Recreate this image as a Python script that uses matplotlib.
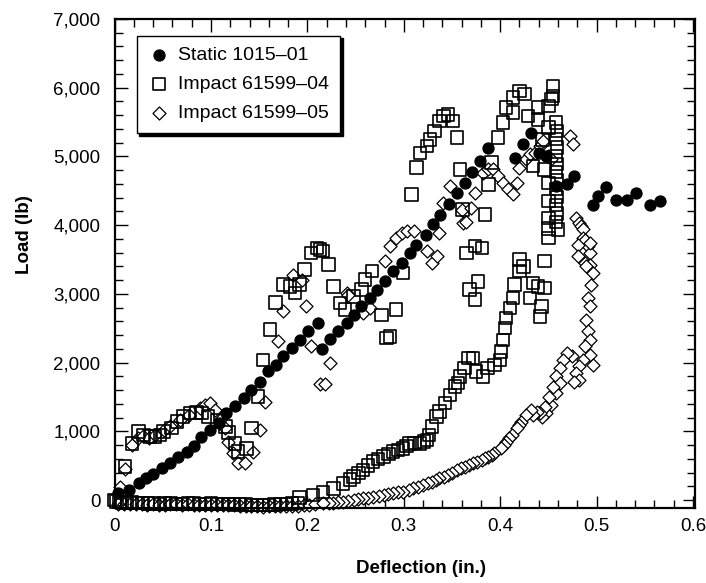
import numpy as np
import matplotlib.pyplot as plt
from matplotlib.ticker import MultipleLocator, FuncFormatter

plt.rcParams['font.family'] = ['Liberation Sans', 'DejaVu Sans']

# Static 1015-01 (filled circles)
static_x = [0.004, 0.015, 0.025, 0.033, 0.040, 0.049, 0.058, 0.066, 0.075, 0.082,
            0.090, 0.099, 0.108, 0.116, 0.125, 0.134, 0.142, 0.151, 0.159, 0.167,
            0.175, 0.184, 0.192, 0.201, 0.211, 0.215, 0.223, 0.232, 0.241, 0.248,
            0.256, 0.265, 0.272, 0.280, 0.289, 0.298, 0.306, 0.313, 0.323, 0.330,
            0.338, 0.347, 0.355, 0.363, 0.371, 0.379, 0.387, 0.415, 0.424, 0.432,
            0.440, 0.448, 0.458, 0.469, 0.477, 0.496, 0.501, 0.510, 0.520, 0.531,
            0.541, 0.555, 0.566]
static_y = [100, 146, 243, 316, 379, 462, 535, 631, 704, 787,
            923, 1020, 1118, 1264, 1370, 1482, 1604, 1725, 1871, 1968,
            2089, 2211, 2333, 2454, 2576, 2200, 2345, 2454, 2576, 2697,
            2818, 2940, 3062, 3183, 3329, 3451, 3597, 3718, 3864, 4010,
            4141, 4301, 4462, 4617, 4772, 4933, 5127, 4982, 5176, 5346,
            5050, 5000, 4568, 4593, 4714, 4287, 4422, 4559, 4364, 4364,
            4471, 4287, 4350]

# Impact 61599-04 (open squares)
imp04_x = [0.000, 0.002, 0.005, 0.008, 0.013, 0.018, 0.024, 0.029, 0.035, 0.041,
           0.047, 0.052, 0.058, 0.064, 0.070, 0.076, 0.082, 0.088, 0.094, 0.100,
           0.106, 0.112, 0.118, 0.124, 0.130, 0.136, 0.142, 0.148, 0.154, 0.160,
           0.166, 0.172, 0.178, 0.184, 0.190,
           0.011, 0.018, 0.025, 0.030, 0.037, 0.042, 0.047, 0.051, 0.059, 0.065,
           0.071, 0.078, 0.085, 0.090, 0.097, 0.106, 0.115, 0.118, 0.125, 0.128,
           0.137, 0.142, 0.149, 0.154, 0.161, 0.167, 0.175, 0.182, 0.187, 0.192,
           0.197, 0.204, 0.210, 0.213, 0.216, 0.222, 0.227, 0.234, 0.239, 0.248,
           0.256, 0.260, 0.267, 0.277, 0.282, 0.286, 0.292, 0.299, 0.308, 0.313,
           0.317, 0.324, 0.327, 0.332, 0.337, 0.341, 0.346, 0.351, 0.355, 0.358,
           0.361, 0.365, 0.374, 0.381, 0.377, 0.368, 0.374, 0.384, 0.388, 0.391,
           0.398, 0.403, 0.406, 0.413, 0.420, 0.425, 0.413, 0.429, 0.439, 0.439,
           0.444, 0.446, 0.434, 0.450, 0.450, 0.453, 0.455, 0.455,
           0.458, 0.459, 0.458, 0.459, 0.458, 0.459, 0.458, 0.459, 0.458, 0.459,
           0.458, 0.459, 0.458, 0.460, 0.450, 0.450, 0.450, 0.450, 0.450,
           0.446, 0.420, 0.420, 0.424, 0.434, 0.439, 0.446, 0.443, 0.441, 0.431,
           0.415, 0.413, 0.410, 0.406, 0.405, 0.403, 0.401, 0.400, 0.394, 0.387,
           0.382, 0.375, 0.372, 0.367, 0.363, 0.358, 0.356, 0.353, 0.348, 0.343,
           0.337, 0.334, 0.329, 0.326, 0.324, 0.321, 0.317, 0.311, 0.306, 0.303,
           0.299, 0.294, 0.289, 0.284, 0.279, 0.273, 0.268, 0.263, 0.258, 0.253,
           0.248, 0.244, 0.237, 0.227, 0.216, 0.206, 0.192]
imp04_y = [0, -20, -30, -35, -40, -38, -45, -42, -50, -48,
           -55, -50, -52, -58, -55, -50, -53, -60, -55, -52,
           -58, -55, -60, -62, -58, -65, -70, -68, -72, -70,
           -65, -60, -55, -50, -40,
           486, 826, 996, 948, 923, 923, 948, 996, 1045, 1142,
           1215, 1264, 1273, 1264, 1215, 1166, 1069, 981, 826, 704,
           753, 1045, 1506, 2041, 2479, 2877, 3135, 3110, 3013, 3135,
           3353, 3597, 3670, 3645, 3620, 3426, 3110, 2868, 2770, 2965,
           3062, 3208, 3329, 2697, 2357, 2381, 2770, 3305, 4447, 4837,
           5054, 5152, 5249, 5370, 5516, 5589, 5613, 5516, 5273, 4812,
           4228, 3597, 3693, 3670, 3183, 3062, 2916, 4155, 4593, 4909,
           5273, 5492, 5711, 5857, 5954, 5905, 5638, 5589, 5711, 5540,
           5249, 4812, 4860, 5419, 5735, 5832, 6026, 5880,
           5492, 5370, 5250, 5130, 5010, 4890, 4770, 4650, 4530, 4410,
           4290, 4170, 4050, 3937, 4617, 4350, 4107, 3950, 3816,
           3475, 3499, 3329, 3400, 3159, 3110, 3086, 2818, 2673, 2940,
           3135, 2940, 2795, 2649, 2503, 2333, 2162, 2041, 1968, 1920,
           1798, 1871, 2066, 2066, 1920, 1798, 1701, 1652, 1531, 1410,
           1288, 1215, 1069, 950, 875, 850, 826, 830, 826, 790,
           753, 730, 704, 670, 631, 595, 559, 500, 437, 390,
           340, 300, 243, 170, 121, 73, 39]

# Impact 61599-05 (open diamonds)
imp05_x = [0.004, 0.010, 0.016, 0.022, 0.028, 0.034, 0.040, 0.046, 0.052, 0.058,
           0.064, 0.070, 0.076, 0.082, 0.088, 0.094, 0.100, 0.106, 0.112, 0.118,
           0.124, 0.130, 0.136, 0.142, 0.148, 0.154, 0.160, 0.166, 0.172, 0.178,
           0.184, 0.190, 0.196, 0.202, 0.208,
           0.006, 0.011, 0.018, 0.024, 0.030, 0.036, 0.042, 0.051, 0.058, 0.068,
           0.077, 0.089, 0.094, 0.099, 0.104, 0.109, 0.115, 0.118, 0.123, 0.128,
           0.135, 0.144, 0.151, 0.156, 0.170, 0.175, 0.185, 0.194, 0.199, 0.204,
           0.213, 0.218, 0.223, 0.241, 0.242, 0.258, 0.265, 0.280, 0.286, 0.292,
           0.298, 0.303, 0.311, 0.324, 0.329, 0.334, 0.337, 0.341, 0.348, 0.360,
           0.361, 0.365, 0.370, 0.374, 0.382, 0.387, 0.393, 0.398, 0.403, 0.408,
           0.413, 0.417, 0.420, 0.427, 0.431, 0.436, 0.441, 0.444, 0.450, 0.453,
           0.472, 0.476, 0.479, 0.482, 0.484, 0.486, 0.486, 0.488, 0.491, 0.493,
           0.481, 0.493, 0.481, 0.488, 0.493, 0.496, 0.489, 0.494, 0.491, 0.493,
           0.489, 0.491, 0.493, 0.488, 0.493, 0.496, 0.486, 0.482, 0.479, 0.482,
           0.477,
           0.474, 0.469, 0.465, 0.462, 0.458, 0.462, 0.458, 0.455, 0.453, 0.451,
           0.448, 0.446, 0.443, 0.441, 0.438, 0.434, 0.432, 0.427, 0.422, 0.420,
           0.417, 0.412, 0.409, 0.406, 0.404, 0.401, 0.394, 0.391, 0.387, 0.384,
           0.381, 0.376, 0.372, 0.368, 0.363, 0.359, 0.355, 0.350, 0.346, 0.342,
           0.337, 0.333, 0.329, 0.325, 0.320, 0.315, 0.310, 0.305, 0.299, 0.294,
           0.289, 0.284, 0.279, 0.274, 0.268, 0.263, 0.258, 0.253, 0.248, 0.242,
           0.237, 0.232, 0.227, 0.222, 0.216]
imp05_y = [-55, -60, -58, -62, -60, -65, -62, -68, -65, -60,
           -62, -66, -64, -70, -68, -65, -70, -72, -70, -75,
           -78, -80, -85, -90, -92, -95, -90, -88, -92, -90,
           -85, -80, -75, -70, -60,
           194, 450, 800, 900, 930, 900, 940, 1020, 1080, 1166,
           1239, 1337, 1385, 1410, 1312, 1166, 1045, 850, 681, 535,
           535, 704, 1020, 1434, 2308, 2745, 3281, 3208, 2818, 2235,
           1691, 1691, 1993, 3013, 2989, 2722, 2795, 3475, 3693, 3815,
           3888, 3912, 3912, 3620, 3451, 3548, 3888, 4326, 4568, 4228,
           4034, 4050, 4253, 4471, 4763, 4812, 4812, 4714, 4617, 4520,
           4447, 4617, 4836, 4957, 5030, 5054, 5152, 5225, 5006, 4957,
           5297, 5176, 4107, 4034, 3985, 3937, 3815, 3791, 3693, 3597,
           3718, 3743, 3548, 3451, 3426, 3305, 3402, 3135, 2940, 2818,
           2624, 2454, 2333, 2235, 2114, 1968, 2041, 1944, 1847, 1750,
           1725,
           2089, 2139, 2041, 1920, 1798, 1701, 1555, 1652, 1385, 1506,
           1264, 1360, 1215, 1264, 1288, 1239, 1312, 1239, 1142, 1090,
           1045, 948, 900, 850, 800, 753, 681, 660, 631, 610,
           583, 560, 535, 510, 486, 460, 437, 400, 365, 340,
           316, 290, 267, 245, 219, 195, 170, 145, 121, 110,
           97, 85, 73, 60, 48, 35, 24, 12, 0, -12,
           -24, -30, -39, -45, -48]

fig = plt.figure(figsize=(7.06, 5.83), dpi=100)
ax = fig.add_axes([0.1622, 0.1286, 0.8222, 0.8388])

ax.scatter(imp05_x, imp05_y, s=44, marker='D', facecolors='white', edgecolors='black',
           linewidths=0.9, label='Impact 61599\u201305', clip_on=False, zorder=2)
ax.scatter(imp04_x, imp04_y, s=80, marker='s', facecolors='none', edgecolors='black',
           linewidths=1.2, label='Impact 61599\u201304', clip_on=False, zorder=3)
ax.scatter(static_x, static_y, s=62, marker='o', color='black',
           label='Static 1015\u201301', clip_on=False, zorder=4)

ax.set_xlim(0, 0.602)
ax.set_ylim(-116, 7000)
ax.xaxis.set_major_locator(MultipleLocator(0.1))
ax.xaxis.set_minor_locator(MultipleLocator(0.02))
ax.yaxis.set_major_locator(MultipleLocator(1000))
ax.yaxis.set_minor_locator(MultipleLocator(200))
ax.xaxis.set_major_formatter(FuncFormatter(lambda v, p: '0' if abs(v) < 1e-9 else f'{v:.1f}'))
ax.yaxis.set_major_formatter(FuncFormatter(lambda v, p: f'{int(round(v)):,}'))

ax.tick_params(which='both', direction='in', top=True, right=True, width=1.0, labelsize=13.5)
ax.tick_params(which='major', length=9)
ax.tick_params(which='minor', length=6)
ax.tick_params(axis='y', which='major', pad=10)
ax.tick_params(axis='x', which='major', pad=7)
for sp in ax.spines.values():
    sp.set_linewidth(1.6)

ax.set_xlabel('Deflection (in.)', fontsize=13.5, fontweight='bold')
ax.set_ylabel('Load (lb)', fontsize=13.5, fontweight='bold')
ax.xaxis.set_label_coords(0.528, -0.106)
ax.yaxis.set_label_coords(-0.140, 0.56)

handles, labels = ax.get_legend_handles_labels()
leg = ax.legend(handles[::-1], labels[::-1], loc='upper left', bbox_to_anchor=(0.038, 0.966),
                borderaxespad=0, fontsize=14, fancybox=False, edgecolor='black',
                shadow={'color': 'black', 'alpha': 1}, handletextpad=0.4,
                handlelength=1.2, labelspacing=0.6, borderpad=0.55, framealpha=1)
leg.get_frame().set_linewidth(1.0)

fig.savefig('out.png', dpi=100)
